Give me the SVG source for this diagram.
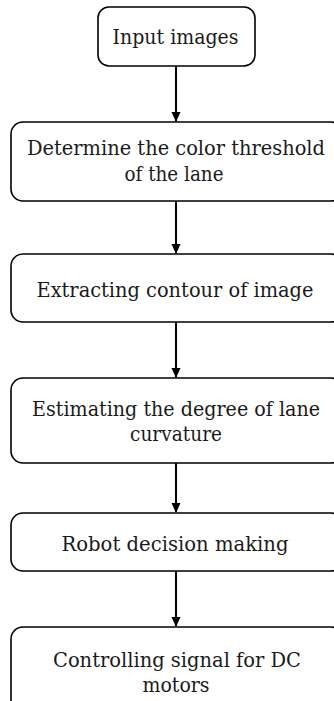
<svg xmlns="http://www.w3.org/2000/svg" width="334" height="701" viewBox="0 0 334 701">
<style>
.box{fill:#fff;stroke:#000;stroke-width:1.6}
.t{font-family:"DejaVu Serif","Liberation Serif",serif;font-size:19.5px;fill:#1a1a1a;text-anchor:middle}
.c{stroke:#000;stroke-width:2;fill:none}
</style>
<defs>
<marker id="ah" markerWidth="10" markerHeight="10" refX="9" refY="5" orient="auto" markerUnits="userSpaceOnUse">
<path d="M0,0.5 L10,5 L0,9.5 Z" fill="#000"/>
</marker>
</defs>
<rect width="334" height="701" fill="#fff"/>
<g id="connectors">
<line class="c" x1="176" y1="66" x2="176" y2="121" marker-end="url(#ah)"/>
<line class="c" x1="176" y1="201" x2="176" y2="253" marker-end="url(#ah)"/>
<line class="c" x1="176" y1="322" x2="176" y2="377" marker-end="url(#ah)"/>
<line class="c" x1="176" y1="463" x2="176" y2="512" marker-end="url(#ah)"/>
<line class="c" x1="176" y1="571" x2="176" y2="626" marker-end="url(#ah)"/>
</g>
<g id="n1">
<rect class="box" x="98" y="7" width="157" height="59" rx="11"/>
<text class="t" x="175.5" y="44" textLength="126" lengthAdjust="spacingAndGlyphs">Input images</text>
</g>
<g id="n2">
<rect class="box" x="11" y="122" width="332" height="79" rx="12"/>
<text class="t" x="176" y="155" textLength="298" lengthAdjust="spacingAndGlyphs">Determine the color threshold</text>
<text class="t" x="174" y="181" textLength="99" lengthAdjust="spacingAndGlyphs">of the lane</text>
</g>
<g id="n3">
<rect class="box" x="11" y="254" width="332" height="68" rx="12"/>
<text class="t" x="175" y="297" textLength="277" lengthAdjust="spacingAndGlyphs">Extracting contour of image</text>
</g>
<g id="n4">
<rect class="box" x="11" y="378" width="332" height="85" rx="12"/>
<text class="t" x="176" y="416" textLength="288" lengthAdjust="spacingAndGlyphs">Estimating the degree of lane</text>
<text class="t" x="176" y="441" textLength="92" lengthAdjust="spacingAndGlyphs">curvature</text>
</g>
<g id="n5">
<rect class="box" x="11" y="513" width="332" height="58" rx="12"/>
<text class="t" x="175" y="551" textLength="227" lengthAdjust="spacingAndGlyphs">Robot decision making</text>
</g>
<g id="n6">
<rect class="box" x="11" y="627" width="332" height="100" rx="12"/>
<text class="t" x="177" y="667" textLength="248" lengthAdjust="spacingAndGlyphs">Controlling signal for DC</text>
<text class="t" x="176" y="692" textLength="67" lengthAdjust="spacingAndGlyphs">motors</text>
</g>
</svg>
